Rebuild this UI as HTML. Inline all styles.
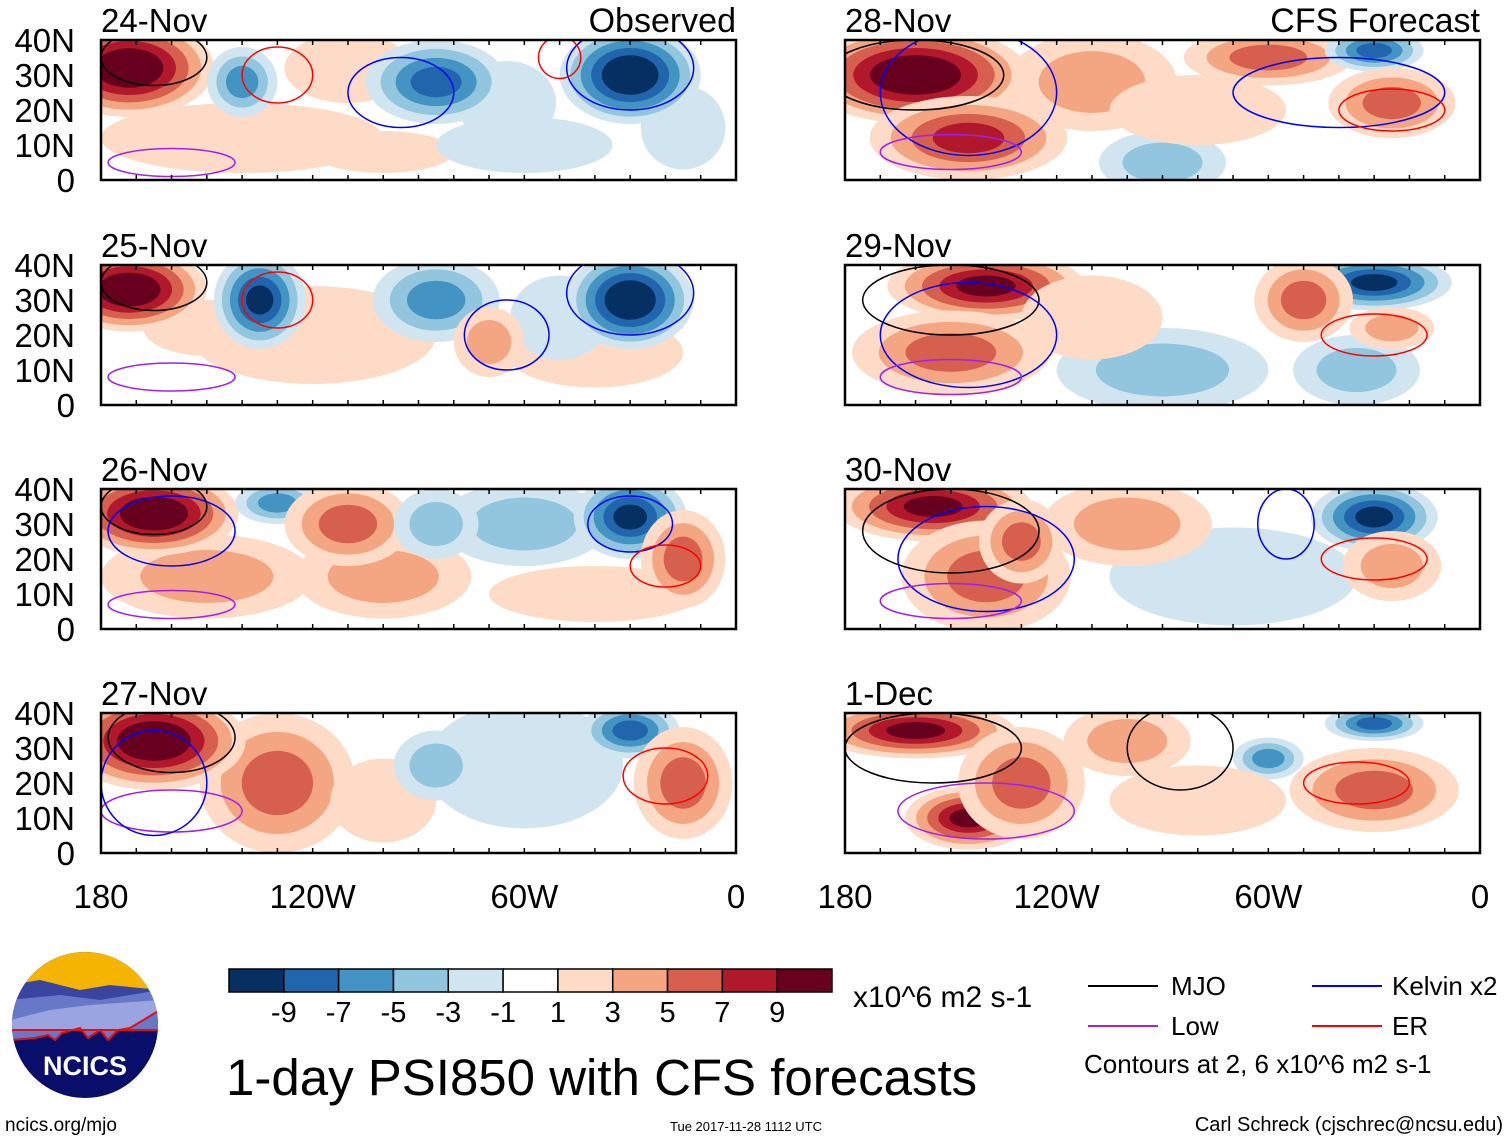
<!DOCTYPE html>
<html><head><meta charset="utf-8">
<style>
body{margin:0;background:#fff;}
svg{display:block;font-family:"Liberation Sans",Arial,sans-serif;}
</style></head>
<body>
<svg id="chart" width="1510" height="1141" viewBox="0 0 1510 1141" xmlns="http://www.w3.org/2000/svg">
<defs id="defs"></defs>
<g id="panels"></g>
<g id="legend">
  <g>
    <clipPath id="logoclip"><circle cx="85" cy="1025" r="73"/></clipPath>
    <g clip-path="url(#logoclip)">
      <rect x="10" y="950" width="150" height="150" fill="#0a0e6b"/>
      <rect x="10" y="950" width="150" height="40" fill="#f5b400"/>
      <path d="M10 985 L40 980 L80 990 L110 985 L160 990 L160 1030 L10 1030Z" fill="#3a45a0"/>
      <path d="M10 1000 L60 995 L100 1000 L160 990 L160 1030 L10 1030Z" fill="#6878c8"/>
      <path d="M10 1020 L50 1010 L90 1005 L160 1000 L160 1030 L10 1030Z" fill="#9aa4e0"/>
      <path d="M10 1040 L35 1038 L48 1035 L55 1040 L62 1033 L80 1028 L88 1038 L100 1030 L108 1040 L118 1030 L130 1028 L160 1010 L160 1030 L10 1030Z" fill="#6878c8" stroke="#e01010" stroke-width="2"/>
    </g>
    <text x="85" y="1075" font-size="27" font-weight="bold" fill="#fff" text-anchor="middle">NCICS</text>
  </g>
  <text x="5" y="1131" font-size="19">ncics.org/mjo</text>
  <g id="cbar"></g>
  <text x="853" y="1007" font-size="30">x10^6 m2 s-1</text>
  <text x="226" y="1095" font-size="51">1-day PSI850 with CFS forecasts</text>
  <text x="670" y="1131" font-size="13">Tue 2017-11-28 1112 UTC</text>
  <text x="1503" y="1131" font-size="20" text-anchor="end">Carl Schreck (cjschrec@ncsu.edu)</text>
  <g><line x1="1088" y1="986" x2="1158" y2="986" stroke="#000" stroke-width="2"/><text x="1171" y="995" font-size="26">MJO</text></g>
  <g><line x1="1312" y1="986" x2="1382" y2="986" stroke="#0000ff" stroke-width="2"/><text x="1392" y="995" font-size="26">Kelvin x2</text></g>
  <g><line x1="1088" y1="1026" x2="1158" y2="1026" stroke="#a020f0" stroke-width="2"/><text x="1171" y="1035" font-size="26">Low</text></g>
  <g><line x1="1312" y1="1026" x2="1382" y2="1026" stroke="#ff0000" stroke-width="2"/><text x="1392" y="1035" font-size="26">ER</text></g>
  <text x="1084" y="1073" font-size="26">Contours at 2, 6 x10^6 m2 s-1</text>
</g>
</svg>
<script>
const levelColors = ["#053061","#2166ac","#4393c3","#92c5de","#d1e5f0","#ffffff","#fddbc7","#f4a582","#d6604d","#b2182b","#67001f"];
const levelLabels = ["-9","-7","-5","-3","-1","1","3","5","7","9"];
const panelDates = ["24-Nov","25-Nov","26-Nov","27-Nov","28-Nov","29-Nov","30-Nov","1-Dec"];
const latTicks = ["40N","30N","20N","10N","0"];
const lonTickVals = [180,120,60,0];
const lonTickLabels = ["180","120W","60W","0"];
// anomaly blobs: [lonW, lat, rxDeg, ryDeg, peakLevel]
const blobs24 = [[140,12,40,10,1],[100,8,20,6,1],[60,10,25,8,-1],[110,32,18,10,1],[65,22,14,12,-1],[15,15,12,12,-1],[172,32,24,14,6],[140,28,10,10,-3],[85,28,20,12,-4],[30,30,20,14,-6]];
const blobs25 = [[120,20,35,14,1],[150,22,18,8,1],[40,15,25,10,1],[50,25,14,12,-1],[172,33,22,12,6],[135,30,13,14,-5],[30,30,18,14,-6],[85,30,18,12,-3],[70,18,10,10,2]];
const blobs26 = [[150,15,30,12,2],[100,15,25,12,2],[60,30,24,12,-2],[40,10,30,8,1],[165,33,24,12,6],[130,36,12,6,-3],[30,32,16,12,-5],[110,30,18,12,3],[15,20,12,14,3],[85,30,12,10,-2]];
const blobs27 = [[60,25,28,18,-1],[130,20,22,20,3],[100,15,15,12,1],[165,32,26,14,6],[30,35,14,8,-4],[15,20,14,16,3],[85,25,12,10,-2]];
const blobs28 = [[110,28,24,14,2],[90,5,18,9,-2],[160,30,32,14,6],[145,12,28,12,4],[60,35,24,8,3],[30,37,14,6,-4],[25,22,18,10,3],[80,20,25,10,1]];
const blobs29 = [[90,10,30,12,-2],[35,10,18,10,-2],[140,34,28,10,5],[150,15,28,12,3],[30,35,22,8,-5],[50,30,14,12,3],[25,22,12,6,2],[110,25,20,12,1]];
const blobs30 = [[70,15,35,14,-1],[100,30,24,12,2],[155,35,28,10,5],[140,15,24,16,3],[30,32,18,10,-5],[25,18,14,10,2],[130,25,12,12,3]];
const blobs01 = [[100,32,18,10,2],[30,18,24,12,3],[160,35,28,8,5],[145,10,18,9,5],[130,20,18,16,3],[30,37,14,5,-4],[60,27,10,6,-3],[80,15,25,10,1]];
const panelBlobs = [blobs24,blobs25,blobs26,blobs27,blobs28,blobs29,blobs30,blobs01];
// contours: [lonW, lat, rxDeg, ryDeg, type] type 0 MJO,1 Kelvin,2 Low,3 ER
const cont24 = [[160,5,18,4,2],[165,35,15,8,0],[130,30,10,8,3],[95,25,15,10,1],[30,32,18,12,1],[50,35,6,6,3]];
const cont25 = [[160,8,18,4,2],[165,35,15,8,0],[130,30,10,8,3],[65,20,12,10,1],[30,32,18,12,1]];
const cont26 = [[160,7,18,4,2],[165,35,15,8,0],[160,28,18,10,1],[30,30,12,8,1],[20,18,10,6,3]];
const cont27 = [[160,12,20,6,2],[160,33,18,10,0],[165,20,15,15,1],[20,22,12,8,3]];
const cont28 = [[160,30,25,10,0],[145,25,25,18,1],[150,8,20,5,2],[40,25,30,10,1],[25,20,15,6,3]];
const cont29 = [[150,30,25,10,0],[145,20,25,15,1],[150,8,20,5,2],[30,20,15,6,3]];
const cont30 = [[150,28,25,12,0],[140,20,25,15,1],[150,8,20,5,2],[30,20,15,6,3],[55,30,8,10,1]];
const cont01 = [[155,30,25,10,0],[140,12,25,8,2],[85,30,15,12,0],[35,20,15,6,3]];
const panelConts = [cont24,cont25,cont26,cont27,cont28,cont29,cont30,cont01];
const contColors = ["#000000","#0000ff","#a020f0","#ff0000"];

const NS="http://www.w3.org/2000/svg";
function mk(tag,attrs,parent){const e=document.createElementNS(NS,tag);for(const k in attrs)e.setAttribute(k,attrs[k]);parent.appendChild(e);return e;}
const panelsG=document.getElementById('panels');
const defs=document.getElementById('defs');
const PW=635, PH=140;
const colX=[101,845], rowY=[40,265,489,713];
panelDates.forEach((d,i)=>{
  const x0=colX[i<4?0:1], y0=rowY[i%4];
  const xs=lon=>x0+(180-lon)/180*PW;
  const ys=lat=>y0+(40-lat)/40*PH;
  const g=mk('g',{},panelsG);
  
  
  const cp=mk('clipPath',{id:'cp'+i},defs);
  mk('rect',{x:x0,y:y0,width:PW,height:PH},cp);
  const inner=mk('g',{'clip-path':'url(#cp'+i+')'},g);
  mk('rect',{x:x0,y:y0,width:PW,height:PH,fill:'#fff'},inner);
  panelBlobs[i].forEach(b=>{
    const [lon,lat,rx,ry,lv]=b;
    const n=Math.abs(lv);
    for(let k=1;k<=n;k++){
      const s=1-(k-1)/(n+0.7);
      const ci=Math.max(0,Math.min(10,lv>0?5+k:5-k));
      const e=mk('ellipse',{cx:xs(lon),cy:ys(lat),rx:rx*s*PW/180,ry:ry*s*PH/40,fill:levelColors[ci]},inner);
      
      
    }
  });
  panelConts[i].forEach(c=>{
    const [lon,lat,rx,ry,t]=c;
    const e=mk('ellipse',{cx:xs(lon),cy:ys(lat),rx:rx*PW/180,ry:ry*PH/40,fill:'none',stroke:contColors[t],'stroke-width':1.5},inner);
    
    
  });
  const fr=mk('rect',{x:x0,y:y0,width:PW,height:PH,fill:'none',stroke:'#000','stroke-width':2.5},g);
  
  
  for(let lon=180;lon>=0;lon-=10){
    mk('line',{x1:xs(lon),y1:y0,x2:xs(lon),y2:y0+5,stroke:'#000','stroke-width':1.5},g);
    mk('line',{x1:xs(lon),y1:y0+PH,x2:xs(lon),y2:y0+PH-5,stroke:'#000','stroke-width':1.5},g);
  }
  const tt=mk('text',{x:x0,y:y0-8,'font-size':33},g);
  tt.textContent=d;
  
  
  if(i===0||i===4){
    const tr=mk('text',{x:x0+PW,y:y0-8,'font-size':34,'text-anchor':'end'},g);
    tr.textContent=i===0?'Observed':'CFS Forecast';
    
    
  }
  if(i<4){
    latTicks.forEach((l,j)=>{
      const t=mk('text',{x:75,y:y0+j*35+12,'font-size':33,'text-anchor':'end'},g);
      t.textContent=l;
      
      
    });
  }
  if(i%4===3){
    lonTickVals.forEach((v,j)=>{
      const t=mk('text',{x:xs(v),y:908,'font-size':33,'text-anchor':'middle'},g);
      t.textContent=lonTickLabels[j];
      
      
    });
  }
});
const cb=document.getElementById('cbar');
const bw=(832-229)/levelColors.length;
levelColors.forEach((c,i)=>{
  const r=mk('rect',{x:229+i*bw,y:969,width:bw,height:23,fill:c,stroke:'#000','stroke-width':1.5},cb);
  
  
});
levelLabels.forEach((l,i)=>{
  const t=mk('text',{x:229+(i+1)*bw,y:1022,'font-size':29,'text-anchor':'middle'},cb);
  t.textContent=l;
  
  
});
</script>
</body></html>
